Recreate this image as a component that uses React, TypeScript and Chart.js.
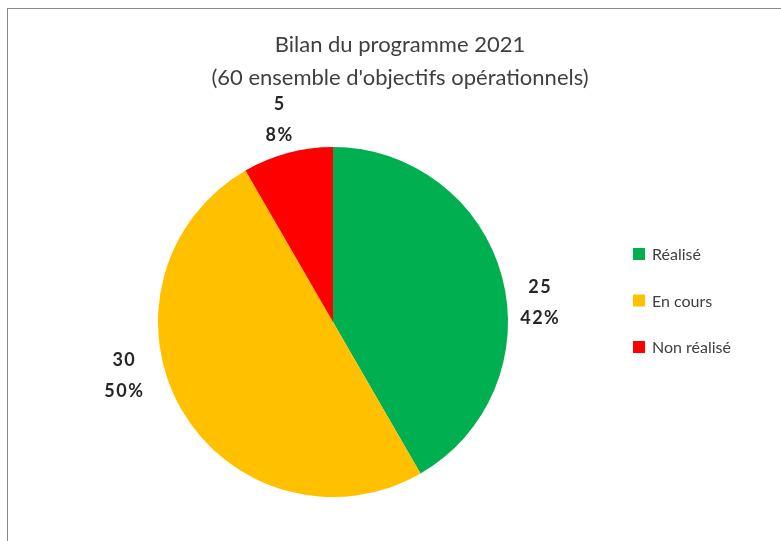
import React, { useEffect, useRef } from "react";
import { Chart, registerables } from "chart.js";

Chart.register(...registerables);

const categories = ["Réalisé", "En cours", "Non réalisé"];
const values = [25, 30, 5];
const colors = ["#00B050", "#FFC000", "#FF0000"];
const titleLines = ["Bilan du programme 2021", "(60 ensemble d'objectifs opérationnels)"];
// label direction (degrees, canvas convention) and distance factor relative to outer radius
const labelAngles = [-5.5, 165.8, -104.7];
const labelDist = [1.19, 1.23, 1.2];

const FONT = "Lato, 'Open Sans', sans-serif";

const overlay = {
  id: "overlay",
  afterDraw(chart: any) {
    const ctx = chart.ctx;
    const meta = chart.getDatasetMeta(0);
    const total = values.reduce((a, b) => a + b, 0);
    ctx.save();
    // title
    ctx.fillStyle = "#404040";
    ctx.textAlign = "center";
    ctx.textBaseline = "middle";
    ctx.font = `22px ${FONT}`;
    ctx.fillText(titleLines[0], 400, 45);
    ctx.fillText(titleLines[1], 400, 78);
    // data labels
    ctx.font = `bold 18px ${FONT}`;
    (ctx as any).letterSpacing = "1.5px";
    ctx.fillStyle = "#262626";
    meta.data.forEach((arc: any, i: number) => {
      const p = arc.getProps(["x", "y", "outerRadius"], true);
      const a = (labelAngles[i] * Math.PI) / 180;
      const r = p.outerRadius * labelDist[i];
      const cx = p.x + Math.cos(a) * r;
      const cy = p.y + Math.sin(a) * r;
      const pct = Math.round((values[i] / total) * 100) + "%";
      ctx.fillText(String(values[i]), cx, cy - 15);
      ctx.fillText(pct, cx, cy + 16);
    });
    (ctx as any).letterSpacing = "0px";
    // legend
    ctx.textAlign = "left";
    ctx.font = `16px ${FONT}`;
    categories.forEach((c, i) => {
      const y = 254 + i * 46.5;
      ctx.fillStyle = colors[i];
      ctx.fillRect(633, y - 6, 12, 12);
      ctx.fillStyle = "#404040";
      ctx.fillText(c, 652, y + 1);
    });
    ctx.restore();
  },
};

export default function App() {
  const ref = useRef<HTMLCanvasElement>(null);
  useEffect(() => {
    if (!ref.current) return;
    const chart = new Chart(ref.current, {
      type: "pie",
      data: {
        labels: categories,
        datasets: [
          {
            data: values,
            backgroundColor: colors,
            borderWidth: 0,
          },
        ],
      },
      options: {
        responsive: false,
        animation: false,
        devicePixelRatio: 1,
        rotation: 0,
        layout: { padding: { left: 158, right: 273, top: 147, bottom: 44 } },
        plugins: {
          legend: { display: false },
          title: { display: false },
          tooltip: { enabled: false },
        },
      },
      plugins: [overlay],
    });
    return () => chart.destroy();
  }, []);
  return (
    <div style={{ position: "absolute", left: 0, top: 0, width: 781, height: 541, background: "#fff", overflow: "hidden" }}>
      <div
        style={{
          position: "absolute",
          left: 7,
          top: 8,
          width: 800,
          height: 600,
          borderLeft: "1px solid #8a8a8a",
          borderTop: "1px solid #8a8a8a",
        }}
      />
      <canvas ref={ref} width={781} height={541} style={{ position: "absolute", left: 0, top: 0, width: 781, height: 541 }} />
    </div>
  );
}
